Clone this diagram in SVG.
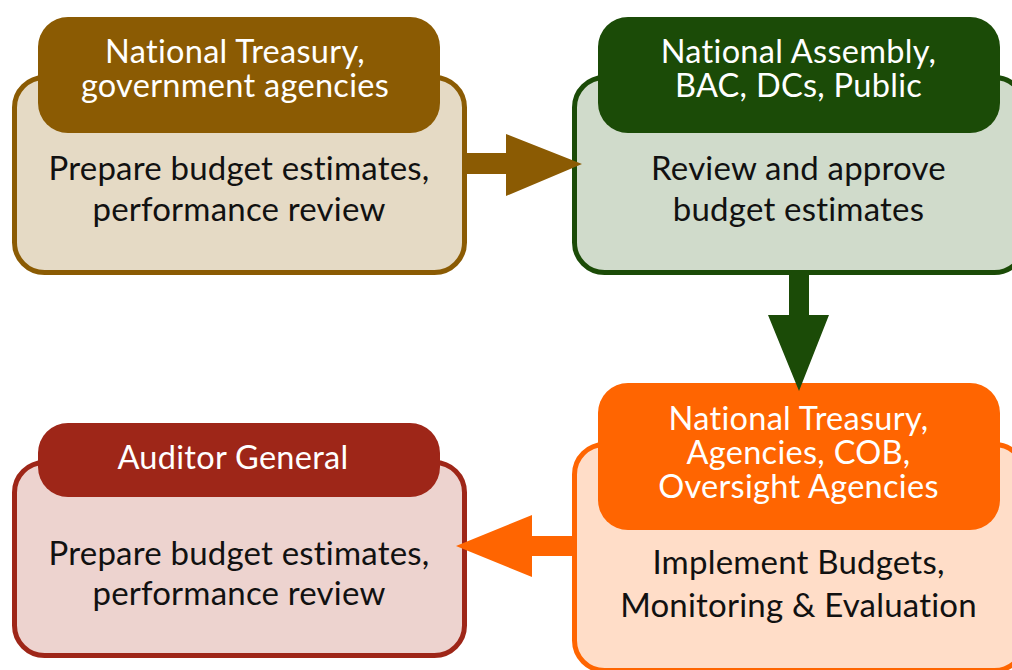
<svg xmlns="http://www.w3.org/2000/svg" width="1012" height="670" viewBox="0 0 1012 670">
  <style>
    .hd { font-family: Lato, "Liberation Sans", sans-serif; font-size: 32.5px; letter-spacing: 0.3px; fill: #ffffff; text-anchor: middle; }
    .bd { font-family: Lato, "Liberation Sans", sans-serif; font-size: 33px; letter-spacing: 0.2px; fill: #111111; text-anchor: middle; }
    .box { stroke-width: 5; }
  </style>
  <rect width="1012" height="670" fill="#ffffff"/>

  <!-- Stage 1: preparation -->
  <g id="node-prepare">
    <rect class="box" x="14.5" y="77.5" width="450" height="195" rx="30" fill="#E5DAC5" stroke="#8B5B03"/>
    <rect x="38" y="17" width="402" height="116" rx="30" fill="#8B5B03"/>
    <text class="hd" y="63"><tspan x="235">National Treasury,</tspan><tspan x="235" dy="34">government agencies</tspan></text>
    <text class="bd" y="180"><tspan x="239">Prepare budget estimates,</tspan><tspan x="239" dy="41">performance review</tspan></text>
  </g>

  <!-- Stage 2: approval -->
  <g id="node-approve">
    <rect class="box" x="574.5" y="77.5" width="450" height="195" rx="30" fill="#D0DBCB" stroke="#1B4B07"/>
    <rect x="598" y="17" width="402" height="116" rx="30" fill="#1B4B07"/>
    <text class="hd" y="63"><tspan x="798.5">National Assembly,</tspan><tspan x="798.5" dy="34">BAC, DCs, Public</tspan></text>
    <text class="bd" y="180"><tspan x="798.5">Review and approve</tspan><tspan x="798.5" dy="41">budget estimates</tspan></text>
  </g>

  <!-- Stage 3: implementation -->
  <g id="node-implement">
    <rect class="box" x="574.5" y="444.5" width="450" height="226" rx="30" fill="#FFDDC8" stroke="#FF6501"/>
    <rect x="598" y="383" width="402" height="147" rx="30" fill="#FF6501"/>
    <text class="hd" y="430"><tspan x="798.5">National Treasury,</tspan><tspan x="798.5" dy="34">Agencies, COB,</tspan><tspan x="798.5" dy="34">Oversight Agencies</tspan></text>
    <text class="bd" y="574"><tspan x="798.5">Implement Budgets,</tspan><tspan x="798.5" dy="43">Monitoring &amp; Evaluation</tspan></text>
  </g>

  <!-- Stage 4: audit -->
  <g id="node-audit">
    <rect class="box" x="14.5" y="462.5" width="450" height="193" rx="30" fill="#EDD3CF" stroke="#9E2618"/>
    <rect x="38" y="423" width="402" height="74" rx="30" fill="#9E2618"/>
    <text class="hd" x="233" y="469">Auditor General</text>
    <text class="bd" y="565"><tspan x="239">Prepare budget estimates,</tspan><tspan x="239" dy="40">performance review</tspan></text>
  </g>

  <!-- Block arrows between stages -->
  <g id="connectors">
    <polygon fill="#8B5B03" points="467,153 506,153 506,134 582,164 506,196 506,174 467,174"/>
    <polygon fill="#1B4B07" points="789,275 809,275 809,315 829,315 799,391 768,315 789,315"/>
    <polygon fill="#FF6501" points="572,536 532,536 532,515 456,546 532,577 532,556 572,556"/>
  </g>
</svg>
